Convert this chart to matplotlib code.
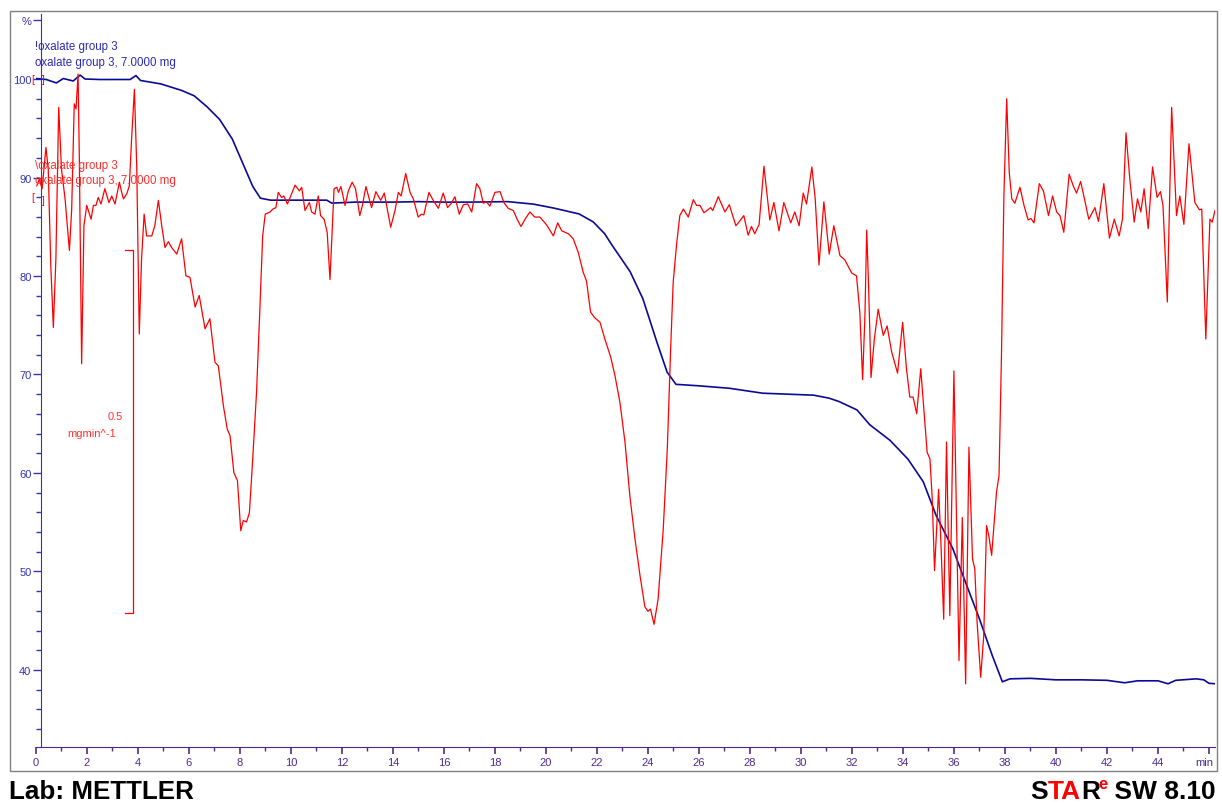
import numpy as np
import matplotlib
matplotlib.use("Agg")
import matplotlib.pyplot as plt
from matplotlib.patches import Rectangle
from matplotlib.transforms import ScaledTranslation

plt.rcParams['font.family'] = ['Liberation Sans', 'DejaVu Sans']

# --- TG curve (mass in %) ---
tg_time = [0.0, 0.4, 0.8, 1.07, 1.46, 1.73, 1.92, 2.5, 3.2, 3.69, 3.92, 4.1, 4.9, 5.7,
           6.2, 6.7, 7.2, 7.7, 8.1, 8.5, 8.8, 9.2, 10.4, 11.4, 11.6, 12.5, 14.0, 15.0,
           16.0, 17.0, 18.5, 19.5, 20.3, 21.3, 21.85, 22.3, 22.6, 23.3, 23.8, 24.35,
           24.75, 25.1, 26.0, 27.2, 28.5, 29.5, 30.5, 31.1, 31.5, 32.2, 32.7, 33.5,
           34.2, 34.8, 35.3, 35.96, 36.5, 37.0, 37.5, 37.9, 38.2, 39.0, 40.0, 41.0,
           42.0, 42.7, 43.2, 44.0, 44.4, 44.7, 45.5, 45.8, 46.0, 46.24]
tg_mass = [100.05, 99.95, 99.6, 100.05, 99.8, 100.4, 100.0, 99.95, 99.95, 99.95, 100.35,
           99.85, 99.5, 98.85, 98.3, 97.2, 95.9, 93.9, 91.5, 89.1, 87.9, 87.7, 87.7,
           87.7, 87.4, 87.5, 87.5, 87.55, 87.5, 87.5, 87.55, 87.3, 86.9, 86.3, 85.5,
           84.3, 83.1, 80.45, 77.7, 73.3, 70.25, 69.0, 68.85, 68.6, 68.1, 68.0, 67.9,
           67.6, 67.25, 66.4, 64.9, 63.3, 61.4, 59.1, 55.7, 52.3, 48.6, 45.2, 41.5,
           38.8, 39.1, 39.15, 39.0, 39.0, 38.95, 38.7, 38.9, 38.9, 38.6, 38.95, 39.1,
           39.0, 38.65, 38.6]

# --- DTG curve (mg/min) ---
dtg_time = [0.03, 0.13, 0.24, 0.39, 0.48, 0.58, 0.68, 0.78, 0.89, 1.00, 1.14, 1.31, 1.40,
            1.50, 1.57, 1.65, 1.70, 1.79, 1.88, 1.99, 2.16, 2.25, 2.35, 2.44, 2.55, 2.70,
            2.86, 2.97, 3.10, 3.27, 3.36, 3.43, 3.56, 3.66, 3.75, 3.86, 3.95, 4.05, 4.14,
            4.24, 4.34, 4.54, 4.66, 4.80, 4.93, 5.06, 5.19, 5.32, 5.52, 5.71, 5.88, 6.04,
            6.24, 6.40, 6.63, 6.82, 7.02, 7.15, 7.35, 7.50, 7.61, 7.76, 7.90, 8.03, 8.13,
            8.26, 8.37, 8.50, 8.65, 8.78, 8.89, 8.99, 9.18, 9.29, 9.41, 9.50, 9.63, 9.72,
            9.86, 9.99, 10.16, 10.33, 10.42, 10.55, 10.72, 10.81, 10.94, 11.07, 11.16,
            11.30, 11.42, 11.53, 11.69, 11.80, 11.86, 11.96, 12.12, 12.25, 12.40, 12.53,
            12.70, 12.80, 12.94, 13.16, 13.33, 13.52, 13.66, 13.91, 14.08, 14.21, 14.32,
            14.50, 14.67, 14.80, 14.99, 15.12, 15.21, 15.41, 15.58, 15.78, 15.97, 16.14,
            16.27, 16.43, 16.60, 16.76, 16.93, 17.09, 17.28, 17.41, 17.54, 17.67, 17.80,
            18.00, 18.20, 18.35, 18.52, 18.72, 18.87, 19.02, 19.18, 19.37, 19.56, 19.76,
            20.03, 20.29, 20.46, 20.62, 20.88, 21.07, 21.27, 21.46, 21.59, 21.75, 21.92,
            22.12, 22.31, 22.54, 22.71, 22.90, 23.10, 23.29, 23.49, 23.69, 23.88, 24.00,
            24.10, 24.24, 24.40, 24.60, 24.76, 24.89, 24.99, 25.12, 25.25, 25.39, 25.58,
            25.78, 25.91, 26.04, 26.20, 26.46, 26.54, 26.76, 27.02, 27.19, 27.45, 27.61,
            27.76, 27.93, 28.06, 28.19, 28.36, 28.55, 28.78, 28.94, 29.14, 29.33, 29.60,
            29.76, 29.93, 30.09, 30.22, 30.43, 30.56, 30.71, 30.90, 31.11, 31.29, 31.53,
            31.72, 31.99, 32.18, 32.31, 32.42, 32.51, 32.58, 32.65, 32.75, 32.88, 33.03,
            33.23, 33.38, 33.56, 33.79, 33.99, 34.14, 34.27, 34.40, 34.54, 34.70, 34.86,
            34.95, 35.06, 35.15, 35.24, 35.40, 35.48, 35.60, 35.71, 35.84, 36.00, 36.20,
            36.33, 36.46, 36.59, 36.73, 36.82, 36.91, 37.05, 37.17, 37.28, 37.37, 37.48,
            37.58, 37.67, 37.77, 37.87, 37.96, 38.07, 38.17, 38.27, 38.39, 38.59, 38.75,
            38.91, 39.02, 39.14, 39.35, 39.51, 39.71, 39.87, 40.03, 40.16, 40.31, 40.52,
            40.68, 40.81, 40.97, 41.12, 41.29, 41.53, 41.67, 41.88, 42.10, 42.29, 42.48,
            42.61, 42.75, 42.90, 43.07, 43.20, 43.33, 43.46, 43.62, 43.79, 43.97, 44.10,
            44.20, 44.37, 44.54, 44.73, 44.86, 45.02, 45.22, 45.45, 45.63, 45.72, 45.88,
            46.04, 46.13, 46.24]
dtg_rate = [0.014, 0.023, 0.010, 0.067, 0.037, -0.096, -0.181, -0.087, 0.122, 0.037, -0.004,
            -0.075, -0.018, 0.127, 0.120, 0.168, 0.051, -0.231, -0.041, -0.013, -0.032,
            -0.013, -0.013, -0.002, -0.011, 0.010, -0.009, 0.000, -0.011, 0.019, 0.005,
            -0.004, 0.003, 0.014, 0.079, 0.147, 0.042, -0.190, -0.087, -0.025, -0.055,
            -0.055, -0.041, -0.006, -0.041, -0.071, -0.063, -0.071, -0.080, -0.059, -0.110,
            -0.112, -0.153, -0.137, -0.183, -0.169, -0.229, -0.234, -0.289, -0.321, -0.330,
            -0.381, -0.392, -0.461, -0.447, -0.449, -0.436, -0.362, -0.270, -0.156, -0.055,
            -0.025, -0.022, -0.018, -0.016, 0.005, -0.002, 0.000, -0.011, 0.000, 0.015,
            0.007, 0.012, -0.020, -0.009, -0.022, -0.025, 0.000, -0.027, -0.032, -0.050,
            -0.115, 0.010, 0.012, 0.005, 0.013, -0.013, 0.007, 0.019, 0.010, -0.027,
            -0.013, 0.013, -0.016, 0.006, -0.006, 0.004, -0.043, -0.020, 0.005, 0.000,
            0.031, 0.005, -0.004, -0.029, -0.025, -0.026, 0.005, -0.006, -0.017, 0.004,
            -0.016, -0.011, -0.001, -0.025, -0.012, -0.011, -0.022, 0.017, 0.010, -0.010,
            -0.008, -0.014, 0.005, 0.006, -0.009, -0.017, -0.020, -0.032, -0.042, -0.032,
            -0.022, -0.029, -0.029, -0.040, -0.055, -0.037, -0.048, -0.052, -0.059, -0.078,
            -0.105, -0.117, -0.160, -0.168, -0.174, -0.197, -0.222, -0.248, -0.284, -0.339,
            -0.413, -0.472, -0.523, -0.566, -0.572, -0.569, -0.590, -0.555, -0.459, -0.348,
            -0.211, -0.119, -0.068, -0.027, -0.018, -0.029, -0.005, -0.013, -0.013, -0.023,
            -0.016, -0.020, -0.001, -0.022, -0.012, -0.041, -0.034, -0.027, -0.054, -0.042,
            -0.052, -0.039, 0.041, -0.033, -0.009, -0.048, -0.009, -0.037, -0.022, -0.041,
            0.004, -0.011, 0.040, -0.004, -0.095, -0.008, -0.080, -0.041, -0.082, -0.088,
            -0.106, -0.110, -0.160, -0.253, -0.165, -0.047, -0.119, -0.250, -0.197, -0.156,
            -0.192, -0.179, -0.215, -0.244, -0.174, -0.238, -0.277, -0.277, -0.300, -0.238,
            -0.312, -0.353, -0.362, -0.417, -0.516, -0.404, -0.468, -0.583, -0.339, -0.578,
            -0.241, -0.640, -0.443, -0.672, -0.346, -0.500, -0.514, -0.587, -0.663, -0.606,
            -0.454, -0.468, -0.495, -0.449, -0.408, -0.385, -0.211, 0.000, 0.134, 0.033,
            -0.004, -0.010, 0.012, -0.013, -0.033, -0.031, -0.037, 0.017, 0.007, -0.027,
            0.000, -0.022, -0.027, -0.050, 0.030, 0.014, 0.004, 0.020, -0.004, -0.032,
            -0.016, -0.035, 0.017, -0.058, -0.032, -0.055, -0.032, 0.087, 0.023, -0.036,
            -0.004, -0.022, 0.010, -0.045, 0.040, -0.002, 0.006, -0.013, -0.146, 0.122,
            -0.027, 0.000, -0.039, 0.072, -0.009, -0.019, -0.018, -0.197, -0.032, -0.036,
            -0.020]

x_ticks = list(range(0, 46, 2))
y_ticks = [40, 50, 60, 70, 80, 90, 100]

W, H = 1222, 804
blue = '#0a0a96'
axis_blue = '#3434b4'
axis_purple = '#4e2a90'
red = '#ff0000'

fig = plt.figure(figsize=(W / 100, H / 100), dpi=100)
fig.patch.set_facecolor('white')

# outer frame
fig.patches.append(Rectangle((10 / W, (H - 772) / H), 1207 / W, 760 / H,
                             transform=fig.transFigure, fill=False,
                             edgecolor='#808080', lw=1.0))

ax = fig.add_axes([36 / W, (H - 748) / H, 1179 / W, 733 / H])
ax.set_xlim(0, 46.24)
ax.set_ylim(32.18, 106.6)
ax.patch.set_visible(False)

for s in ['top', 'right']:
    ax.spines[s].set_visible(False)
ax.spines['left'].set_position(('data', 0.2))
ax.spines['left'].set_color(axis_blue)
ax.spines['bottom'].set_color(axis_purple)

ax.set_yticks(y_ticks + [106])
ax.set_yticklabels([str(v) for v in y_ticks] + ['%'])
ax.set_yticks(np.arange(34, 100, 2), minor=True)
ax.set_xticks(x_ticks + [46])
ax.set_xticklabels([str(v) for v in x_ticks] + ['min'])
ax.set_xticks(np.arange(1, 46, 2), minor=True)

ax.tick_params(axis='y', which='major', length=5.5, width=1, color=axis_blue,
               labelcolor=axis_blue, labelsize=8, pad=1.5)
ax.tick_params(axis='y', which='minor', length=3.5, width=1, color=axis_blue)
ax.tick_params(axis='x', which='major', length=4.8, width=1.2, color=axis_purple,
               labelcolor=axis_purple, labelsize=8, pad=2.5)
ax.tick_params(axis='x', which='minor', length=2.9, width=1, color=axis_purple)

# keep the "min" unit label inside the frame
min_label = ax.get_xticklabels()[-1]
min_label.set_horizontalalignment('right')
min_label.set_transform(min_label.get_transform() + ScaledTranslation(4 / 100, 0, fig.dpi_scale_trans))

ax.plot(tg_time, tg_mass, color=blue, lw=1.2)

# DTG on its own hidden scale
ax2 = ax.twinx()
ax2.set_ylim(-0.759, 0.2507)
ax2.set_xlim(0, 46.24)
for s in ax2.spines.values():
    s.set_visible(False)
ax2.set_yticks([])
ax2.plot(dtg_time, dtg_rate, color=red, lw=0.9)

# scale bar: 0.5 mg/min
bar_x, bar_top, bar_len = 3.8, -0.075, 0.5
ax2.plot([bar_x - 0.3, bar_x, bar_x, bar_x - 0.3],
         [bar_top, bar_top, bar_top - bar_len, bar_top - bar_len], color=red, lw=0.9)
fig.text(123 / W, (H - 417) / H, '0.5', color='#ff3030', fontsize=8,
         ha='right', va='center')
fig.text(116 / W, (H - 434) / H, 'mgmin^-1', color='#ff3030', fontsize=8,
         ha='right', va='center')

# curve labels
fig.text(35 / W, (H - 47) / H, '!oxalate group 3', color='#2a2ab0', fontsize=8.3, va='center')
fig.text(35 / W, (H - 63) / H, 'oxalate group 3, 7.0000 mg', color='#2a2ab0', fontsize=8.3,
         va='center')
fig.text(35 / W, (H - 166) / H, '\\oxalate group 3', color='#ff3030', fontsize=8.3,
         va='center')
fig.text(35 / W, (H - 181) / H, 'oxalate group 3, 7.0000 mg', color='#ff3030', fontsize=8.3,
         va='center')

# red reference brackets
for yy in (80, 198):
    fig.text(31 / W, (H - yy) / H, '[', color=red, fontsize=7, va='center', ha='left')
for yy in (80, 201):
    fig.text(42 / W, (H - yy) / H, ']', color=red, fontsize=7, va='center', ha='left')

# footer
fig.text(9 / W, (H - 799) / H, 'Lab: METTLER', color='black', fontsize=18.7,
         fontweight='bold', va='baseline')

# "STAR^e SW 8.10" logo, placed right to left
fig.canvas.draw()
renderer = fig.canvas.get_renderer()
parts = [('S', 'black', 19, 0), ('TA', red, 19, 0), ('R', 'black', 19, 0),
         ('e', red, 12, 10), (' SW 8.10', 'black', 19, 0)]
x = 1216
for txt, col, size, dy in reversed(parts):
    t = fig.text(x / W, (H - 799 + dy) / H, txt, color=col, fontsize=size,
                 ha='right', va='baseline', fontweight='bold')
    bb = t.get_window_extent(renderer)
    x = bb.x0 + (2 if txt == 'e' else 0)

fig.savefig('out.png', dpi=100)
